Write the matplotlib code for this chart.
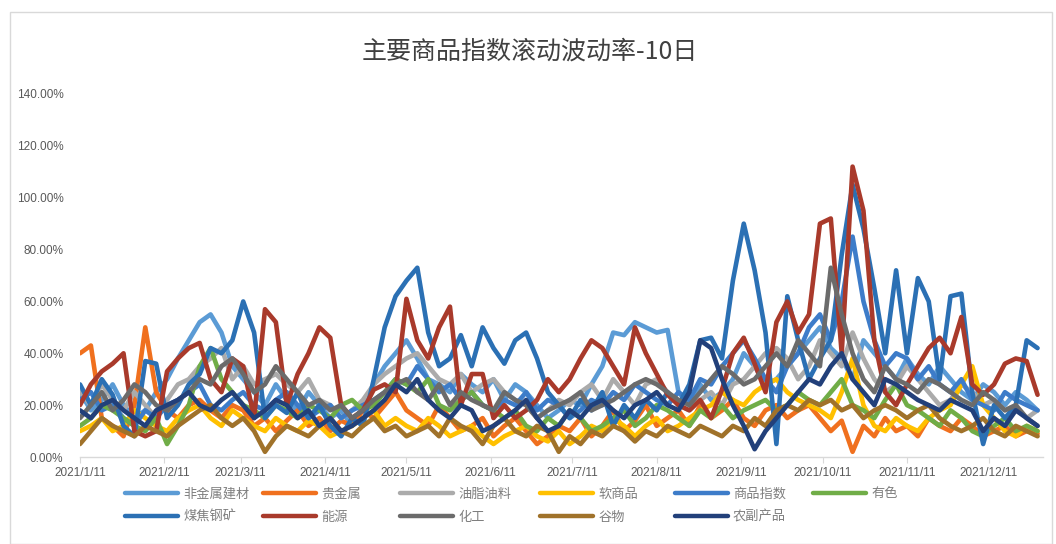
import matplotlib
matplotlib.use("Agg")
import matplotlib.pyplot as plt
from matplotlib.lines import Line2D
from matplotlib.patches import Rectangle
from matplotlib.ticker import FuncFormatter, MultipleLocator
import pandas as pd

plt.rcParams['font.family'] = ['Noto Sans CJK SC', 'DejaVu Sans']

# ---------------- data ----------------
dates = pd.date_range('2021-01-11', periods=89, freq='4D')

tick_dates = pd.date_range('2021-01-01', periods=12, freq='MS') + pd.Timedelta(days=10)

s_fjs = [25, 18, 22, 28, 20, 15, 18, 25, 30, 38, 45, 52, 55, 48, 35, 30, 25, 20, 28, 22,
         18, 25, 20, 15, 18, 12, 20, 28, 35, 40, 45, 38, 30, 28, 25, 32, 28, 25, 30, 22,
         28, 25, 20, 15, 18, 22, 20, 28, 35, 48, 47, 52, 50, 48, 49, 25, 20, 28, 22, 25,
         30, 40, 35, 28, 30, 35, 40, 45, 50, 42, 38, 30, 45, 40, 35, 30, 38, 32, 28, 35,
         30, 25, 22, 28, 25, 20, 25, 22, 18]
s_gjs = [40, 43, 15, 12, 8, 20, 50, 25, 18, 15, 20, 22, 18, 15, 20, 18, 12, 15, 10, 14,
         18, 12, 15, 10, 14, 12, 18, 15, 20, 25, 18, 15, 12, 20, 15, 10, 12, 15, 8, 12,
         15, 10, 5, 8, 12, 10, 15, 8, 12, 18, 10, 14, 20, 12, 15, 18, 12, 20, 15, 18,
         22, 15, 12, 18, 20, 15, 18, 20, 15, 10, 14, 2, 12, 8, 15, 10, 12, 8, 15, 12,
         10, 15, 12, 8, 10, 12, 8, 10, 9]
s_yzyl = [25, 20, 28, 22, 18, 25, 20, 15, 22, 28, 30, 35, 38, 42, 30, 35, 28, 30, 32, 28,
          25, 30, 22, 20, 15, 18, 22, 28, 32, 35, 38, 40, 35, 30, 28, 32, 25, 28, 30, 25,
          22, 20, 15, 18, 22, 20, 25, 28, 22, 30, 25, 20, 28, 30, 25, 20, 18, 22, 25, 20,
          28, 30, 35, 40, 42, 38, 30, 35, 45, 40, 35, 48, 38, 30, 25, 28, 35, 30, 25, 20,
          22, 28, 25, 20, 22, 18, 20, 15, 18]
s_rsp = [10, 12, 15, 10, 12, 18, 15, 12, 10, 15, 18, 20, 15, 12, 18, 15, 12, 10, 15, 12,
         10, 14, 12, 8, 10, 12, 15, 18, 12, 15, 12, 10, 15, 12, 8, 10, 12, 8, 5, 8,
         10, 12, 8, 6, 10, 5, 8, 12, 10, 15, 12, 8, 12, 15, 10, 12, 15, 18, 20, 25,
         22, 20, 25, 28, 30, 25, 22, 20, 18, 15, 25, 38, 20, 12, 10, 15, 12, 10, 15, 18,
         20, 28, 35, 20, 15, 10, 8, 12, 10]
s_spzs = [22, 25, 18, 20, 15, 12, 18, 15, 20, 22, 25, 28, 20, 18, 22, 25, 20, 18, 22, 25,
          20, 15, 18, 20, 15, 18, 20, 22, 25, 30, 28, 35, 30, 25, 28, 22, 25, 20, 18, 22,
          20, 25, 18, 22, 20, 15, 18, 22, 20, 25, 22, 28, 25, 22, 20, 25, 22, 30, 28, 35,
          40, 45, 38, 30, 25, 35, 40, 50, 55, 45, 60, 85, 60, 45, 35, 40, 38, 30, 35, 28,
          25, 30, 22, 20, 18, 25, 22, 20, 18]
s_ys = [12, 15, 20, 18, 15, 12, 10, 15, 5, 12, 20, 35, 42, 30, 25, 20, 18, 15, 20, 18,
        15, 20, 18, 15, 20, 22, 18, 20, 25, 30, 28, 25, 30, 20, 18, 22, 25, 20, 18, 15,
        18, 12, 10, 15, 12, 18, 15, 10, 12, 15, 18, 12, 15, 20, 18, 15, 12, 18, 15, 20,
        15, 18, 20, 22, 18, 20, 25, 22, 20, 25, 30, 20, 18, 15, 22, 28, 20, 18, 15, 12,
        18, 15, 10, 8, 12, 15, 10, 12, 10]
s_mjgk = [28, 20, 30, 24, 12, 8, 37, 36, 15, 20, 28, 32, 42, 40, 45, 60, 48, 15, 20, 17,
          25, 15, 20, 12, 8, 15, 12, 30, 50, 62, 68, 73, 48, 35, 38, 47, 35, 50, 42, 36,
          45, 48, 38, 25, 20, 15, 22, 18, 25, 12, 20, 15, 22, 18, 25, 20, 28, 45, 46, 38,
          68, 90, 72, 48, 5, 62, 45, 30, 38, 45, 78, 105, 88, 65, 40, 72, 40, 69, 60, 30,
          62, 63, 25, 5, 20, 15, 20, 45, 42]
s_ny = [20, 28, 33, 36, 40, 10, 8, 10, 33, 38, 42, 44, 30, 25, 38, 35, 15, 57, 52, 20,
        32, 40, 50, 46, 20, 15, 18, 26, 28, 25, 61, 45, 38, 50, 58, 20, 32, 32, 15, 20,
        15, 18, 22, 30, 25, 30, 38, 45, 42, 35, 28, 50, 40, 32, 24, 20, 18, 22, 15, 26,
        40, 46, 36, 25, 52, 60, 48, 55, 90, 92, 40, 112, 95, 45, 25, 20, 28, 35, 42, 46,
        40, 54, 28, 24, 28, 36, 38, 37, 24]
s_hg = [15, 20, 25, 18, 22, 28, 25, 20, 18, 22, 25, 30, 28, 35, 38, 32, 25, 28, 35, 30,
        25, 20, 22, 18, 20, 15, 18, 22, 25, 28, 30, 25, 22, 28, 20, 25, 22, 20, 18, 25,
        22, 20, 15, 18, 20, 22, 25, 18, 20, 22, 25, 28, 30, 28, 25, 22, 20, 25, 30, 35,
        32, 28, 30, 35, 40, 35, 45, 40, 35, 73, 55, 40, 30, 25, 35, 30, 28, 25, 30, 28,
        25, 22, 20, 25, 22, 18, 20, 15, 12]
s_gw = [5, 10, 15, 12, 10, 8, 12, 10, 8, 12, 15, 18, 20, 15, 12, 15, 10, 2, 8, 12,
        10, 8, 12, 15, 10, 8, 12, 15, 10, 12, 8, 10, 12, 8, 15, 12, 10, 5, 12, 15,
        10, 8, 12, 10, 2, 8, 5, 10, 8, 12, 10, 6, 10, 8, 12, 10, 8, 12, 10, 8,
        12, 10, 15, 12, 18, 20, 18, 22, 20, 22, 18, 20, 15, 18, 20, 18, 15, 18, 20, 15,
        12, 10, 12, 15, 10, 8, 12, 10, 8]
s_nfcp = [18, 15, 20, 22, 18, 15, 12, 18, 20, 22, 25, 20, 18, 22, 25, 20, 15, 18, 22, 20,
          15, 18, 12, 15, 10, 12, 15, 18, 22, 28, 25, 30, 22, 18, 15, 20, 18, 10, 12, 15,
          18, 22, 15, 10, 12, 18, 15, 20, 22, 18, 15, 20, 22, 25, 20, 18, 25, 45, 42, 30,
          20, 12, 3, 10, 15, 20, 25, 30, 28, 35, 40, 30, 25, 20, 30, 28, 25, 22, 20, 18,
          22, 20, 18, 10, 15, 12, 18, 15, 12]

series_names = ['非金属建材', '贵金属', '油脂油料', '软商品', '商品指数', '有色',
                '煤焦钢矿', '能源', '化工', '谷物', '农副产品']
series_values = [s_fjs, s_gjs, s_yzyl, s_rsp, s_spzs, s_ys,
                 s_mjgk, s_ny, s_hg, s_gw, s_nfcp]
colors = ['#5B9BD5', '#F0701E', '#ABABAB', '#FFC000', '#3D7CC9', '#70AD47',
          '#2B70B4', '#A93A2B', '#6B6B6B', '#A0722A', '#22407A']

title = '主要商品指数滚动波动率-10日'

# ---------------- figure ----------------
W, H = 1056, 544
fig = plt.figure(figsize=(W / 100, H / 100), dpi=100)
fig.patch.set_facecolor('white')
fig.patches.append(Rectangle((10 / W, 0.0), (W - 14) / W, 1 - 12 / H,
                             transform=fig.transFigure, fill=False,
                             edgecolor='#D9D9D9', linewidth=1.0))

ax = fig.add_axes([80 / W, 1 - 457 / H, (1043 - 80) / W, (457 - 94) / H])

for name, vals, c in zip(series_names, series_values, colors):
    ax.plot(dates, [v / 100 for v in vals], color=c, lw=3.3,
            solid_joinstyle='round', solid_capstyle='round', label=name)

ax.set_ylim(0, 1.4)
ax.set_xlim(pd.Timestamp('2021-01-11'), pd.Timestamp('2021-12-31'))
ax.yaxis.set_major_locator(MultipleLocator(0.2))
ax.yaxis.set_major_formatter(FuncFormatter(lambda v, p: f'{v * 100:.2f}%'))
ax.set_xticks(tick_dates)
ax.set_xticklabels([f'{d.year}/{d.month}/{d.day}' for d in tick_dates])

for s in ['top', 'right', 'left']:
    ax.spines[s].set_visible(False)
ax.spines['bottom'].set_color('#D9D9D9')
ax.spines['bottom'].set_linewidth(1.0)
ax.tick_params(axis='y', length=0, pad=12, labelsize=8.5, labelcolor='#595959')
ax.tick_params(axis='x', length=4, color='#D9D9D9', pad=3, labelsize=8.5,
               labelcolor='#595959')
for lab in ax.get_xticklabels() + ax.get_yticklabels():
    lab.set_fontfamily(['Liberation Sans', 'DejaVu Sans'])

fig.text(530 / W, 1 - 52 / H, title, ha='center', va='center',
         fontsize=18, color='#404040')

# legend: fixed column grid like the reference
col_x = [125, 263, 400, 540, 675, 813]
row_y = [494, 517]
for i, (name, c) in enumerate(zip(series_names, colors)):
    r, cidx = divmod(i, 6)
    h = Line2D([], [], color=c, lw=3.2, solid_capstyle='round')
    fig.legend([h], [name], loc='center left',
               bbox_to_anchor=(col_x[cidx] / W, 1 - row_y[r] / H),
               frameon=False, borderpad=0, borderaxespad=0,
               handlelength=4.0, handletextpad=0.4,
               prop={'size': 9.5}, labelcolor='#7F7F7F')

fig.savefig('out.png', dpi=100, facecolor='white')
